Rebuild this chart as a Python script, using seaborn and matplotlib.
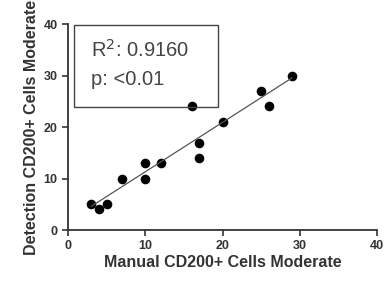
import numpy as np
import pandas as pd
import matplotlib
matplotlib.use('Agg')
import matplotlib.pyplot as plt
import seaborn as sns

# values
manual = [3, 4, 5, 7, 10, 10, 12, 16, 17, 17, 20, 25, 26, 29]
detection = [5, 4, 5, 10, 13, 10, 13, 24, 17, 14, 21, 27, 24, 30]
r2_text = 'R$^2$: 0.9160'
p_text = 'p: <0.01'

df = pd.DataFrame({'manual': manual, 'detection': detection})

sns.set_style('ticks')
plt.rcParams['font.family'] = ['Liberation Sans', 'DejaVu Sans']

fig = plt.figure(figsize=(3.84, 2.84), dpi=100)
ax = fig.add_axes([0.177, 0.19, 0.805, 0.725])

sns.regplot(x='manual', y='detection', data=df, ci=None, ax=ax,
            scatter_kws={'s': 48, 'color': 'black', 'linewidths': 0, 'alpha': 1},
            line_kws={'color': '#555555', 'lw': 0.9})

ax.set_xlim(0, 40)
ax.set_ylim(0, 40)
ax.set_xticks([0, 10, 20, 30, 40])
ax.set_yticks([0, 10, 20, 30, 40])
ax.tick_params(labelsize=9, colors='#333333', length=4, width=1.2)
for lab in ax.get_xticklabels() + ax.get_yticklabels():
    lab.set_fontweight('bold')
for s in ['left', 'bottom']:
    ax.spines[s].set_linewidth(1.3)
    ax.spines[s].set_color('#333333')
sns.despine(ax=ax)

ax.set_xlabel('Manual CD200+ Cells Moderate', fontsize=11.5, fontweight='bold',
              color='#333333', labelpad=2)
ax.set_ylabel('Detection CD200+ Cells Moderate', fontsize=11.5, fontweight='bold',
              color='#333333', labelpad=3)

# stats box
ax.add_patch(plt.Rectangle((0.8, 23.9), 18.6, 15.9, fill=False,
                           edgecolor='#444444', lw=1.0, clip_on=False))
ax.text(3.0, 35, r2_text, fontsize=14.5, color='#444444', va='center')
ax.text(3.0, 29.2, p_text, fontsize=14.5, color='#444444', va='center')

fig.savefig('out.png', dpi=100)
